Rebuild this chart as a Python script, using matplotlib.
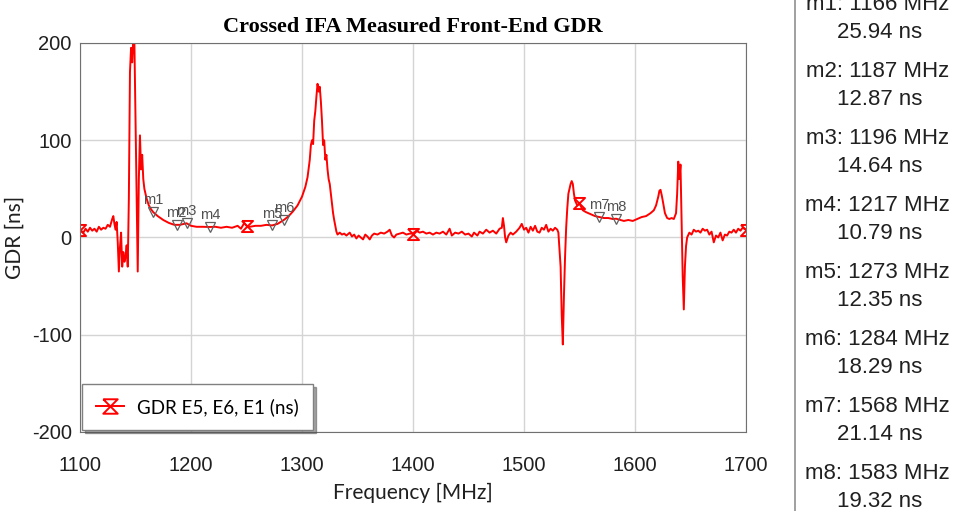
import matplotlib.pyplot as plt
from matplotlib.path import Path
from matplotlib.lines import Line2D

plt.rcParams['axes.unicode_minus'] = False

# Namerané GDR (frekvencia v MHz, GDR v ns), odčítané z obrázka
freq = [1100, 1103, 1105, 1107, 1109, 1111, 1113, 1115, 1117, 1119, 1121, 1123, 1125, 1127,
        1129, 1130, 1131, 1132, 1133, 1134, 1135, 1136, 1137, 1138, 1139, 1140, 1141, 1142,
        1143, 1144, 1145, 1146, 1147, 1148, 1149, 1150, 1151, 1152, 1153, 1154, 1155, 1156,
        1157, 1158, 1160, 1162, 1164, 1166, 1170, 1175, 1180, 1185, 1187, 1190, 1196, 1200,
        1205, 1210, 1217, 1222, 1227, 1232, 1237, 1242, 1245, 1248, 1250, 1253, 1258, 1263,
        1268, 1273, 1278, 1284, 1288, 1292, 1296, 1300, 1303, 1305, 1307, 1308, 1309, 1310,
        1311, 1312, 1313, 1314, 1315, 1316, 1317, 1318, 1319, 1320, 1321, 1322, 1323, 1324,
        1325, 1326, 1327, 1328, 1329, 1330, 1331, 1332, 1334, 1336, 1338, 1340, 1343, 1345,
        1347, 1349, 1351, 1353, 1355, 1357, 1359, 1361, 1363, 1365, 1368, 1371, 1374, 1377,
        1379, 1381, 1383, 1385, 1388, 1391, 1394, 1397, 1400, 1403, 1406, 1409, 1412, 1415,
        1418, 1421, 1424, 1427, 1430, 1433, 1435, 1438, 1441, 1444, 1447, 1450, 1453, 1455,
        1458, 1460, 1463, 1466, 1469, 1472, 1475, 1478, 1480, 1481, 1482, 1483, 1484, 1486,
        1488, 1490, 1493, 1496, 1498, 1500, 1502, 1504, 1506, 1508, 1510, 1512, 1514, 1516,
        1518, 1520, 1522, 1524, 1526, 1528, 1530, 1531, 1533, 1534, 1535, 1536, 1537, 1538,
        1539, 1540, 1542, 1543, 1544, 1545, 1546, 1548, 1550, 1553, 1556, 1560, 1564, 1568,
        1572, 1576, 1580, 1583, 1587, 1590, 1594, 1598, 1602, 1606, 1610, 1614, 1617, 1619,
        1621, 1622, 1623, 1624, 1625, 1627, 1629, 1631, 1633, 1635, 1637, 1638, 1639, 1640,
        1641, 1642, 1643, 1644, 1645, 1646, 1647, 1649, 1651, 1653, 1655, 1657, 1659, 1661,
        1663, 1665, 1667, 1669, 1671, 1673, 1675, 1677, 1679, 1681, 1683, 1685, 1687, 1689,
        1691, 1693, 1695, 1697, 1700]
gdr = [8, 5, 9, 6, 10, 7, 9, 6, 11, 8, 10, 9, 13, 11,
       19, 22, 14, 8, 16, -5, -35, -10, 5, -30, -15, -25, -20, -8,
       -30, 40, 170, 195, 180, 205, 200, 120, 40, -35, 60, 105, 70, 85,
       60, 50, 40, 33, 29, 26, 22, 18, 15, 13, 13, 13, 14.6, 12,
       11, 11, 10.8, 11, 10, 11, 10, 12, 9, 15, 12, 11, 12, 12,
       13, 12.4, 14, 18.3, 22, 27, 33, 42, 52, 62, 80, 95, 100, 96,
       120, 130, 145, 158, 150, 155, 140, 120, 95, 100, 80, 85, 70, 60,
       55, 45, 35, 25, 18, 12, 6, 3, 5, 3, 4, 2, 5, 1,
       3, -1, 2, 0, -2, 3, 1, -2, 2, 4, 3, 5, 4, 6,
       8, 2, 0, 3, 4, 5, 3, 4, 4, 7, 5, 6, 4, 5,
       3, 5, 4, 6, 3, 9, 2, 5, 4, 6, 3, 4, 1, 5,
       2, 6, 4, 8, 5, 7, 4, 9, 10, 20, 12, 0, -5, 2,
       5, 3, 6, 10, 14, 8, 10, 5, 11, 7, 12, 6, 5, 10,
       8, 13, 6, 9, 7, 10, 8, 5, -30, -80, -110, -60, -20, 10,
       30, 45, 55, 58, 55, 45, 38, 33, 35, 28, 26, 24, 22, 21,
       20, 20, 19, 19.3, 18, 17, 18, 17, 19, 21, 22, 25, 28, 33,
       42, 48, 49, 44, 38, 25, 20, 19, 20, 19, 25, 45, 78, 60,
       75, 20, -40, -74, -30, -9, 0, 5, 3, 8, 6, 7, 5, 9,
       7, 8, 3, 6, -5, 2, 0, 5, -3, 3, 2, 6, 5, 8,
       5, 9, 7, 10, 8]

# frekvencie so značkou krivky
znacky_krivky = [1100, 1250, 1400, 1550, 1700]

# markery m1..m8
m_nazvy = ['m1', 'm2', 'm3', 'm4', 'm5', 'm6', 'm7', 'm8']
m_freq = [1166, 1187, 1196, 1217, 1273, 1284, 1568, 1583]
m_gdr = [25.94, 12.87, 14.64, 10.79, 12.35, 18.29, 21.14, 19.32]

# tvar presýpacích hodín
hodiny = Path([(-1, 1), (1, 1), (-1, -1), (1, -1), (-1, 1)])

fig = plt.figure(figsize=(9.56, 5.11), dpi=100)
ax = fig.add_axes([0.0837, 0.1546, 0.6966, 0.7613])

idx = [freq.index(f) for f in znacky_krivky]
ax.plot(freq, gdr, color='#ff0000', linewidth=1.4, marker=hodiny, markersize=8,
        markerfacecolor='none', markeredgecolor='#ff0000', markeredgewidth=1.4,
        markevery=idx, label='GDR E5, E6, E1 (ns)')

ax.plot(m_freq, m_gdr, linestyle='none', marker='v', markersize=7.5,
        markerfacecolor='none', markeredgecolor='#606060', markeredgewidth=0.9)
for n, f, g in zip(m_nazvy, m_freq, m_gdr):
    ax.annotate(n, (f, g), xytext=(0, 8.5), textcoords='offset points',
                ha='center', va='center', fontsize=10.5, color='#505050',
                family='Liberation Sans')

ax.set_xlim(1100, 1700)
ax.set_ylim(-200, 200)
ax.set_xticks([1100, 1200, 1300, 1400, 1500, 1600, 1700])
ax.set_yticks([-200, -100, 0, 100, 200])
ax.grid(True, color='#d4d4d4', linewidth=1)
ax.set_axisbelow(True)
for s in ax.spines.values():
    s.set_color('#707070')
ax.tick_params(length=0, labelsize=14.5, labelcolor='#202020')
ax.tick_params(axis='x', pad=17)
ax.tick_params(axis='y', pad=6)
for t in ax.get_xticklabels() + ax.get_yticklabels():
    t.set_family('Liberation Sans')

ax.set_xlabel('Frequency [MHz]', family='Lato', fontsize=15, color='#202020', labelpad=6)
ax.set_ylabel('GDR [ns]', family='Lato', fontsize=15, color='#202020', labelpad=5)
ax.set_title('Crossed IFA Measured Front-End GDR', family='Liberation Serif',
             fontweight='bold', fontsize=16, pad=8)

leg = ax.legend(loc='lower left', borderaxespad=0.1, fancybox=False, shadow=True,
                prop={'family': 'Lato', 'size': 13.5}, handlelength=1.5,
                borderpad=0.75, handletextpad=0.7, markerscale=1.3)
leg.get_frame().set_edgecolor('#808080')

# pravý panel s hodnotami markerov
fig.add_artist(Line2D([0.8316, 0.8316], [0, 1], color='#909090', linewidth=1.2))
for i, (n, f, g) in enumerate(zip(m_nazvy, m_freq, m_gdr)):
    y = 1 - (5 + i * 66.9) / 511
    fig.text(0.918, y, f'{n}: {f} MHz', ha='center', va='center', fontsize=16,
             family='Liberation Sans', color='#202020')
    fig.text(0.92, y - 28 / 511, f'{g:.2f} ns', ha='center', va='center', fontsize=16,
             family='Liberation Sans', color='#202020')

fig.savefig('out.png', dpi=100)
plt.close(fig)
